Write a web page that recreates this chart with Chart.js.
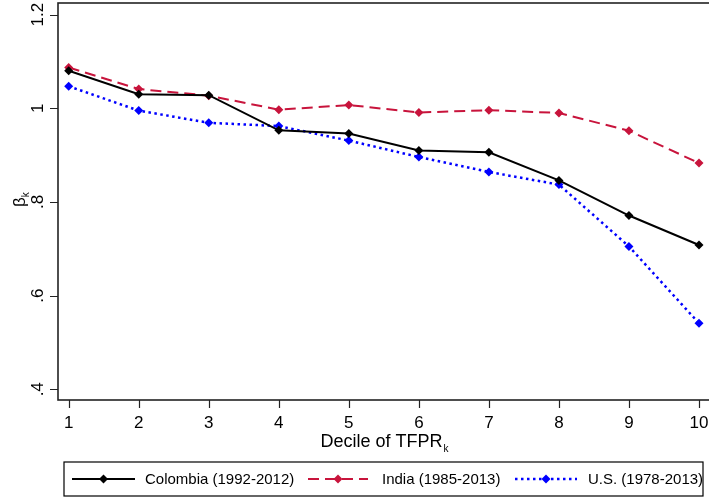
<!DOCTYPE html>
<html>
<head>
<meta charset="utf-8">
<script src="https://cdn.jsdelivr.net/npm/chart.js@4"></script>
<style>
  html, body { margin: 0; padding: 0; background: #fff; }
  #wrap { width: 709px; height: 500px; }
</style>
</head>
<body>
<div id="wrap"><canvas id="betaChart" width="709" height="500"></canvas></div>
<script>
const deciles = [1, 2, 3, 4, 5, 6, 7, 8, 9, 10];
const colombia = [1.080, 1.030, 1.028, 0.953, 0.946, 0.910, 0.906, 0.846, 0.771, 0.708];
const india = [1.087, 1.041, 1.027, 0.997, 1.007, 0.991, 0.996, 0.990, 0.952, 0.883];
const us = [1.047, 0.995, 0.969, 0.962, 0.931, 0.896, 0.864, 0.837, 0.705, 0.541];
const yTicks = [0.4, 0.6, 0.8, 1.0, 1.2];
const yTickText = ['.4', '.6', '.8', '1', '1.2'];
const seriesNames = ['Colombia (1992-2012)', 'India (1985-2013)', 'U.S. (1978-2013)'];

const FONT = '"Liberation Sans", Arial, Helvetica, sans-serif';

const styles = [
  { color: '#000000', dash: [], width: 2 },
  { color: '#c8143c', dash: [11, 6], width: 2 },
  { color: '#0000ff', dash: [2.5, 3.5], width: 2.5 }
];

function pts(vals) {
  return deciles.map((d, i) => ({ x: d, y: vals[i] }));
}

// frame, tick marks, tick labels, axis titles and the boxed legend
const decorations = {
  id: 'decorations',
  afterDraw(chart) {
    const ctx = chart.ctx;
    const a = chart.chartArea;
    const xs = chart.scales.x;
    const ys = chart.scales.y;
    ctx.save();

    ctx.strokeStyle = '#222';
    ctx.lineWidth = 1.6;
    ctx.strokeRect(a.left, a.top, a.right - a.left + 4, a.bottom - a.top);

    // outward tick marks
    ctx.lineWidth = 1.2;
    ctx.beginPath();
    deciles.forEach(d => {
      const px = Math.round(xs.getPixelForValue(d)) + 0.5;
      ctx.moveTo(px, a.bottom);
      ctx.lineTo(px, a.bottom + 8);
    });
    yTicks.forEach(v => {
      const py = Math.round(ys.getPixelForValue(v)) + 0.5;
      ctx.moveTo(a.left, py);
      ctx.lineTo(a.left - 8, py);
    });
    ctx.stroke();

    ctx.fillStyle = '#000';
    ctx.font = '17px ' + FONT;
    ctx.textAlign = 'center';
    ctx.textBaseline = 'alphabetic';

    // x tick labels
    deciles.forEach(d => {
      ctx.fillText(String(d), xs.getPixelForValue(d), 428);
    });

    // y tick labels, reading upwards
    yTicks.forEach((v, i) => {
      const py = ys.getPixelForValue(v);
      ctx.save();
      ctx.translate(43, py);
      ctx.rotate(-Math.PI / 2);
      ctx.fillText(yTickText[i], 0, 0);
      ctx.restore();
    });

    // y title: beta sub k
    ctx.save();
    ctx.translate(25, 201);
    ctx.rotate(-Math.PI / 2);
    ctx.textAlign = 'left';
    ctx.font = '17px ' + FONT;
    ctx.fillText('β', -6, 0);
    const bw = ctx.measureText('β').width;
    ctx.font = '10px ' + FONT;
    ctx.fillText('k', -6 + bw, 4);
    ctx.restore();

    // x title: Decile of TFPR sub k
    ctx.font = '18px ' + FONT;
    ctx.textAlign = 'left';
    const main = 'Decile of TFPR';
    const mw = ctx.measureText(main).width;
    ctx.font = '10px ' + FONT;
    const kw = ctx.measureText('k').width;
    const tx = 384 - (mw + kw) / 2;
    ctx.font = '18px ' + FONT;
    ctx.fillText(main, tx, 447);
    ctx.font = '10px ' + FONT;
    ctx.fillText('k', tx + mw + 1, 452);

    // legend box
    ctx.strokeStyle = '#000';
    ctx.lineWidth = 1.2;
    ctx.strokeRect(64, 462, 639, 34);
    const items = [
      { x0: 72, x1: 135, tx: 145 },
      { x0: 308, x1: 368, tx: 382 },
      { x0: 515, x1: 577, tx: 588 }
    ];
    const ly = 479;
    items.forEach((it, i) => {
      const s = styles[i];
      ctx.strokeStyle = s.color;
      ctx.lineWidth = s.width;
      ctx.setLineDash(s.dash);
      ctx.beginPath();
      ctx.moveTo(it.x0, ly);
      ctx.lineTo(it.x1, ly);
      ctx.stroke();
      ctx.setLineDash([]);
      const mx = (it.x0 + it.x1) / 2;
      ctx.fillStyle = s.color;
      ctx.beginPath();
      ctx.moveTo(mx, ly - 4.5);
      ctx.lineTo(mx + 4.5, ly);
      ctx.lineTo(mx, ly + 4.5);
      ctx.lineTo(mx - 4.5, ly);
      ctx.closePath();
      ctx.fill();
      ctx.fillStyle = '#000';
      ctx.font = '15px ' + FONT;
      ctx.textBaseline = 'middle';
      ctx.fillText(seriesNames[i], it.tx, ly + 1);
    });
    ctx.restore();
  }
};

new Chart(document.getElementById('betaChart'), {
  type: 'line',
  data: {
    datasets: [colombia, india, us].map((vals, i) => ({
      label: seriesNames[i],
      data: pts(vals),
      borderColor: styles[i].color,
      backgroundColor: styles[i].color,
      borderWidth: styles[i].width,
      borderDash: styles[i].dash,
      pointStyle: 'rectRot',
      pointRadius: 4.5,
      pointBorderWidth: 0,
      tension: 0,
      fill: false
    }))
  },
  options: {
    responsive: false,
    animation: false,
    layout: { autoPadding: false, padding: { top: 3, left: 0, right: 0, bottom: 0 } },
    plugins: { legend: { display: false }, tooltip: { enabled: false } },
    scales: {
      x: {
        type: 'linear',
        min: 0.847,
        max: 10.143,
        afterBuildTicks: s => { s.ticks = deciles.map(v => ({ value: v })); },
        afterFit: s => { s.height = 100; },
        grid: { display: false },
        border: { display: false },
        ticks: { display: false }
      },
      y: {
        min: 0.3771,
        max: 1.2248,
        afterBuildTicks: s => { s.ticks = yTicks.map(v => ({ value: v })); },
        afterFit: s => { s.width = 58; },
        grid: { display: false },
        border: { display: false },
        ticks: { display: false }
      }
    }
  },
  plugins: [decorations]
});
</script>
</body>
</html>
